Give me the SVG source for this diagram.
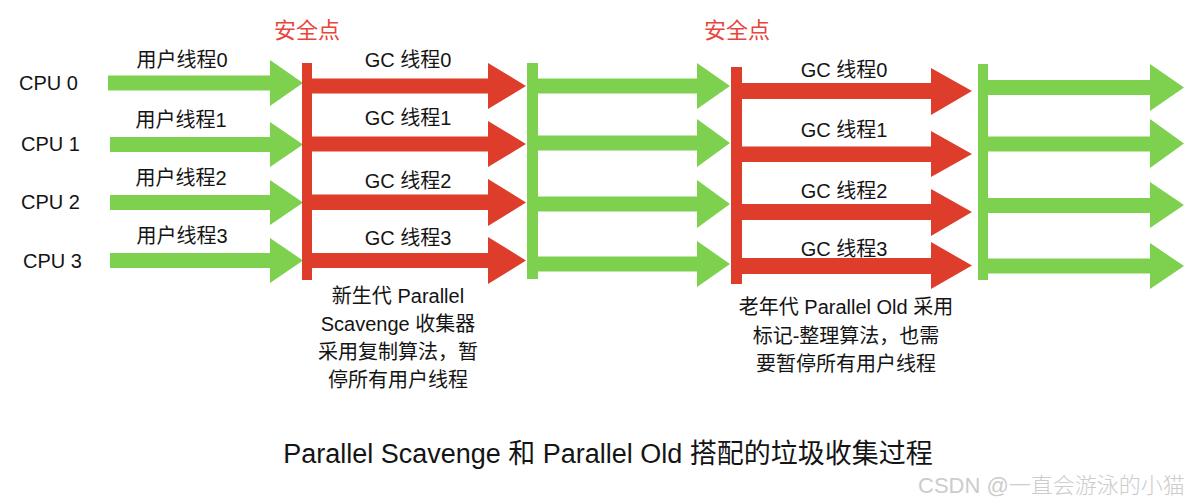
<svg xmlns="http://www.w3.org/2000/svg" width="1200" height="504" viewBox="0 0 1200 504">
<style>
.g{fill:#7dd14f}
.r{fill:#dd3d2a}
.t{font-family:"Liberation Sans","Noto Sans CJK SC",sans-serif;font-size:20px;fill:#141414}
.m{text-anchor:middle}
.sp{font-family:"Liberation Sans","Noto Sans CJK SC",sans-serif;font-size:22px;fill:#e8453c;text-anchor:middle}
.title{font-family:"Liberation Sans","Noto Sans CJK SC",sans-serif;font-size:27px;fill:#141414;text-anchor:middle}
.wm{font-family:"Liberation Sans","Noto Sans CJK SC",sans-serif;font-size:22px;fill:#cccccc;font-weight:300}
</style>
<rect width="1200" height="504" fill="#ffffff"/>

<g id="cpu-labels">
<text class="t" x="19" y="90">CPU 0</text>
<text class="t" x="21" y="151">CPU 1</text>
<text class="t" x="21" y="209">CPU 2</text>
<text class="t" x="23" y="268">CPU 3</text>
</g>

<g id="user-threads-1">
<polygon class="g" points="108,75.5 270,75.5 270,60 303,83 270,106 270,90.5 108,90.5"/>
<polygon class="g" points="110,137 270,137 270,122 303,144.5 270,167 270,152 110,152"/>
<polygon class="g" points="110,195 270,195 270,180 303,202.5 270,225 270,210 110,210"/>
<polygon class="g" points="110,253 270,253 270,238 303,260.5 270,283 270,268 110,268"/>
<text class="t m" x="182" y="67">用户线程0</text>
<text class="t m" x="181" y="127">用户线程1</text>
<text class="t m" x="181" y="185">用户线程2</text>
<text class="t m" x="182" y="243">用户线程3</text>
</g>

<g id="safepoint-1">
<text class="sp" x="307" y="38">安全点</text>
<rect class="r" x="302" y="63" width="10" height="217"/>
</g>

<g id="gc-threads-young">
<polygon class="r" points="312,78.5 488,78.5 488,63 526,86 488,109 488,93.5 312,93.5"/>
<polygon class="r" points="312,136.5 488,136.5 488,121 526,144 488,167 488,151.5 312,151.5"/>
<polygon class="r" points="312,194.5 488,194.5 488,179 526,202.5 488,226 488,210 312,210"/>
<polygon class="r" points="312,253 488,253 488,237 526,260.5 488,284 488,268 312,268"/>
<text class="t m" x="408" y="67">GC 线程0</text>
<text class="t m" x="408" y="125">GC 线程1</text>
<text class="t m" x="408" y="188">GC 线程2</text>
<text class="t m" x="408" y="245">GC 线程3</text>
</g>

<g id="note-young">
<text class="t m" x="398" y="303">新生代 Parallel</text>
<text class="t m" x="398" y="331">Scavenge 收集器</text>
<text class="t m" x="398" y="359">采用复制算法，暂</text>
<text class="t m" x="398" y="387">停所有用户线程</text>
</g>

<g id="user-threads-2">
<rect class="g" x="527" y="63" width="11" height="216"/>
<polygon class="g" points="538,78.5 697,78.5 697,63 730,86 697,109 697,93.5 538,93.5"/>
<polygon class="g" points="538,135.5 697,135.5 697,119 730,143 697,167 697,150.5 538,150.5"/>
<polygon class="g" points="538,196.5 697,196.5 697,180 730,204 697,228 697,211.5 538,211.5"/>
<polygon class="g" points="538,256.5 697,256.5 697,241 730,264 697,287 697,271.5 538,271.5"/>
</g>

<g id="safepoint-2">
<text class="sp" x="737" y="38">安全点</text>
<rect class="r" x="731" y="67" width="11" height="217"/>
</g>

<g id="gc-threads-old">
<polygon class="r" points="742,83 931,83 931,68 972,91 931,115 931,99 742,99"/>
<polygon class="r" points="742,146.5 931,146.5 931,131 972,154 931,177 931,162 742,162"/>
<polygon class="r" points="742,204 931,204 931,189 972,212 931,236 931,220 742,220"/>
<polygon class="r" points="742,258 931,258 931,242 972,265.5 931,289 931,274 742,274"/>
<text class="t m" x="844" y="77">GC 线程0</text>
<text class="t m" x="844" y="137">GC 线程1</text>
<text class="t m" x="844" y="198">GC 线程2</text>
<text class="t m" x="844" y="256">GC 线程3</text>
</g>

<g id="note-old">
<text class="t m" x="846" y="314">老年代 Parallel Old 采用</text>
<text class="t m" x="846" y="343">标记-整理算法，也需</text>
<text class="t m" x="846" y="371">要暂停所有用户线程</text>
</g>

<g id="user-threads-3">
<rect class="g" x="978" y="64" width="10" height="216"/>
<polygon class="g" points="988,80 1150,80 1150,64 1184,87.5 1150,111 1150,95 988,95"/>
<polygon class="g" points="988,136.5 1150,136.5 1150,119 1184,143.5 1150,168 1150,151.5 988,151.5"/>
<polygon class="g" points="988,198 1150,198 1150,182 1184,205 1150,228 1150,213 988,213"/>
<polygon class="g" points="988,258.5 1150,258.5 1150,243 1184,266 1150,289 1150,273.5 988,273.5"/>
</g>

<text class="title" x="608" y="463">Parallel Scavenge 和 Parallel Old 搭配的垃圾收集过程</text>
<text class="wm" x="918" y="493">CSDN @一直会游泳的小猫</text>
</svg>
